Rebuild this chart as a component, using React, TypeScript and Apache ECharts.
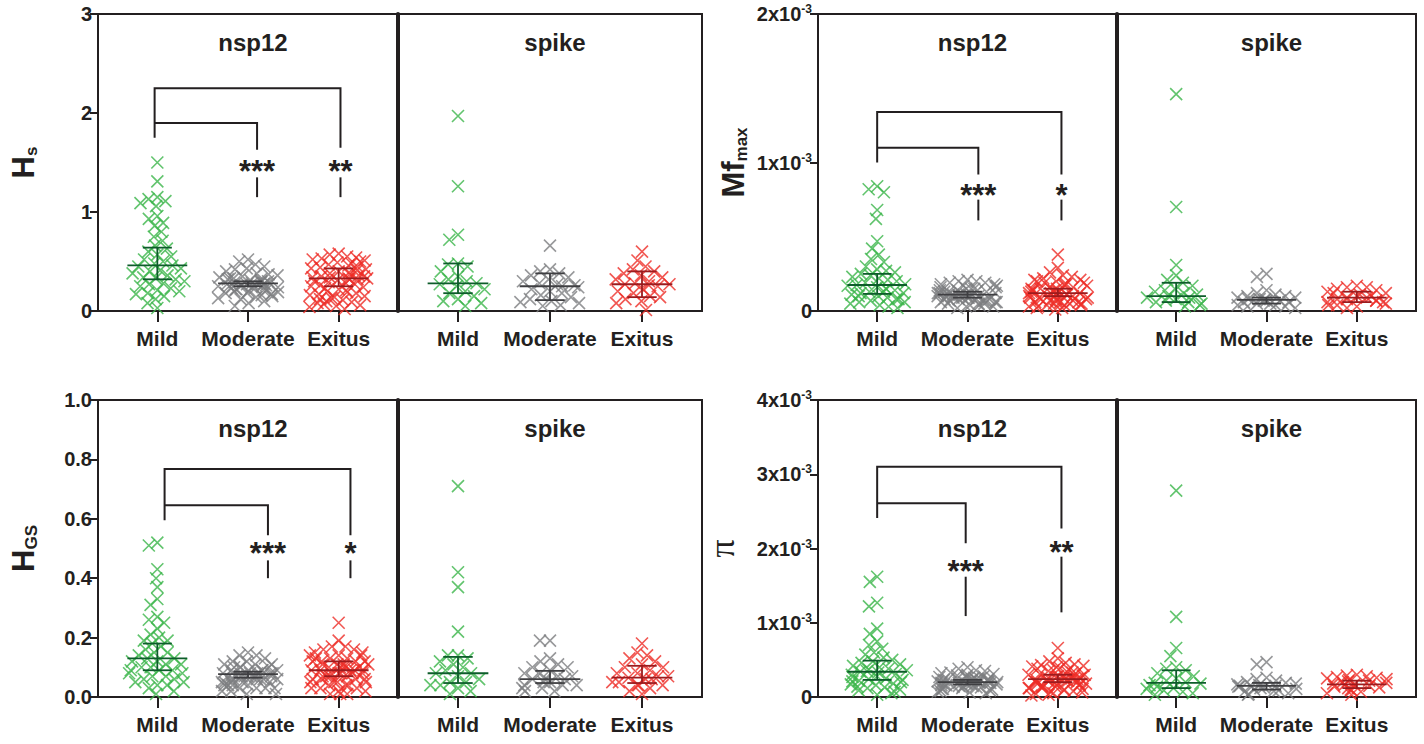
import React, { useEffect, useRef } from 'react';
import * as echarts from 'echarts';

const categories = ['Mild', 'Moderate', 'Exitus'];
const genes = ['nsp12', 'spike'];

// ---- Hs ----
const hsNspMild = [1.50, 1.31, 1.15, 1.13, 1.11, 1.09, 1.06, 0.96, 0.93, 0.89, 0.86, 0.80, 0.75, 0.71, 0.66, 0.63, 0.60, 0.57, 0.55, 0.52, 0.50, 0.48, 0.46, 0.45, 0.43, 0.41, 0.40, 0.38, 0.36, 0.34, 0.33, 0.32, 0.30, 0.28, 0.27, 0.25, 0.23, 0.21, 0.20, 0.18, 0.17, 0.15, 0.12, 0.08, 0.03];
const hsNspModerate = [0.52, 0.50, 0.47, 0.45, 0.43, 0.42, 0.40, 0.38, 0.37, 0.36, 0.35, 0.34, 0.33, 0.33, 0.32, 0.32, 0.31, 0.30, 0.30, 0.29, 0.29, 0.28, 0.28, 0.28, 0.27, 0.27, 0.27, 0.26, 0.26, 0.26, 0.25, 0.25, 0.25, 0.24, 0.24, 0.23, 0.23, 0.22, 0.22, 0.21, 0.21, 0.20, 0.20, 0.19, 0.18, 0.18, 0.17, 0.16, 0.15, 0.14, 0.13, 0.12, 0.10, 0.08, 0.05];
const hsNspExitus = [0.58, 0.57, 0.55, 0.54, 0.53, 0.52, 0.51, 0.50, 0.49, 0.48, 0.47, 0.46, 0.45, 0.44, 0.43, 0.42, 0.41, 0.40, 0.39, 0.38, 0.37, 0.36, 0.35, 0.35, 0.34, 0.34, 0.33, 0.33, 0.32, 0.32, 0.31, 0.30, 0.29, 0.28, 0.27, 0.26, 0.25, 0.24, 0.23, 0.22, 0.21, 0.20, 0.19, 0.18, 0.17, 0.16, 0.15, 0.14, 0.13, 0.12, 0.11, 0.10, 0.09, 0.08, 0.07, 0.06, 0.05, 0.04, 0.02];
const hsSpikeMild = [1.97, 1.26, 0.77, 0.72, 0.48, 0.47, 0.45, 0.40, 0.35, 0.32, 0.30, 0.28, 0.27, 0.25, 0.22, 0.20, 0.18, 0.15, 0.12, 0.10, 0.08, 0.05];
const hsSpikeModerate = [0.66, 0.42, 0.40, 0.38, 0.36, 0.34, 0.32, 0.30, 0.28, 0.27, 0.26, 0.25, 0.24, 0.22, 0.20, 0.18, 0.16, 0.14, 0.12, 0.10, 0.09, 0.08, 0.06, 0.05];
const hsSpikeExitus = [0.60, 0.51, 0.45, 0.42, 0.40, 0.38, 0.36, 0.34, 0.32, 0.30, 0.28, 0.27, 0.27, 0.26, 0.25, 0.22, 0.20, 0.18, 0.15, 0.14, 0.12, 0.10, 0.08, 0.01];
// [median, lower, upper] per group
const hsNspStats = [[0.46, 0.32, 0.64], [0.28, 0.25, 0.30], [0.33, 0.25, 0.43]];
const hsSpikeStats = [[0.28, 0.18, 0.48], [0.25, 0.11, 0.38], [0.27, 0.14, 0.40]];

// ---- Mf max (x10^-3) ----
const mfNspMild = [0.84, 0.82, 0.80, 0.68, 0.62, 0.47, 0.42, 0.38, 0.35, 0.33, 0.30, 0.28, 0.27, 0.26, 0.25, 0.24, 0.23, 0.22, 0.21, 0.20, 0.19, 0.18, 0.175, 0.17, 0.16, 0.15, 0.15, 0.14, 0.13, 0.13, 0.12, 0.12, 0.11, 0.10, 0.10, 0.09, 0.08, 0.08, 0.07, 0.06, 0.06, 0.05, 0.04, 0.03, 0.02];
const mfNspModerate = [0.21, 0.20, 0.20, 0.19, 0.19, 0.18, 0.18, 0.17, 0.17, 0.16, 0.16, 0.15, 0.15, 0.15, 0.14, 0.14, 0.14, 0.13, 0.13, 0.13, 0.12, 0.12, 0.12, 0.12, 0.11, 0.11, 0.11, 0.11, 0.10, 0.10, 0.10, 0.10, 0.10, 0.09, 0.09, 0.09, 0.09, 0.08, 0.08, 0.08, 0.08, 0.07, 0.07, 0.07, 0.06, 0.06, 0.06, 0.05, 0.05, 0.05, 0.04, 0.04, 0.03, 0.03, 0.02];
const mfNspExitus = [0.38, 0.29, 0.26, 0.24, 0.23, 0.22, 0.21, 0.21, 0.20, 0.20, 0.19, 0.19, 0.18, 0.18, 0.17, 0.17, 0.16, 0.16, 0.15, 0.15, 0.15, 0.14, 0.14, 0.14, 0.13, 0.13, 0.13, 0.12, 0.12, 0.12, 0.12, 0.11, 0.11, 0.11, 0.10, 0.10, 0.10, 0.09, 0.09, 0.09, 0.08, 0.08, 0.08, 0.07, 0.07, 0.07, 0.06, 0.06, 0.06, 0.05, 0.05, 0.05, 0.04, 0.04, 0.04, 0.03, 0.03, 0.02, 0.02, 0.01];
const mfSpikeMild = [1.46, 0.70, 0.31, 0.24, 0.21, 0.19, 0.17, 0.15, 0.14, 0.13, 0.12, 0.11, 0.10, 0.09, 0.09, 0.08, 0.07, 0.06, 0.06, 0.05, 0.04, 0.03];
const mfSpikeModerate = [0.25, 0.23, 0.14, 0.12, 0.11, 0.10, 0.10, 0.09, 0.09, 0.08, 0.08, 0.08, 0.07, 0.07, 0.07, 0.06, 0.06, 0.05, 0.05, 0.04, 0.04, 0.03, 0.03, 0.02];
const mfSpikeExitus = [0.17, 0.16, 0.16, 0.15, 0.14, 0.13, 0.12, 0.12, 0.11, 0.10, 0.10, 0.09, 0.09, 0.08, 0.08, 0.07, 0.07, 0.06, 0.06, 0.05, 0.04, 0.04, 0.03, 0.02];
const mfNspStats = [[0.175, 0.115, 0.25], [0.11, 0.09, 0.13], [0.12, 0.10, 0.15]];
const mfSpikeStats = [[0.10, 0.06, 0.19], [0.075, 0.05, 0.09], [0.09, 0.06, 0.13]];

// ---- HGS ----
const hgsNspMild = [0.52, 0.51, 0.43, 0.40, 0.37, 0.33, 0.31, 0.27, 0.26, 0.25, 0.23, 0.21, 0.20, 0.19, 0.19, 0.18, 0.17, 0.16, 0.15, 0.15, 0.14, 0.13, 0.13, 0.12, 0.12, 0.11, 0.11, 0.10, 0.10, 0.09, 0.09, 0.09, 0.08, 0.08, 0.07, 0.07, 0.06, 0.06, 0.05, 0.05, 0.04, 0.04, 0.03, 0.02, 0.01];
const hgsNspModerate = [0.15, 0.14, 0.14, 0.13, 0.12, 0.12, 0.11, 0.11, 0.11, 0.10, 0.10, 0.10, 0.10, 0.09, 0.09, 0.09, 0.09, 0.09, 0.08, 0.08, 0.08, 0.08, 0.08, 0.08, 0.08, 0.07, 0.07, 0.07, 0.07, 0.07, 0.07, 0.07, 0.06, 0.06, 0.06, 0.06, 0.06, 0.06, 0.05, 0.05, 0.05, 0.05, 0.05, 0.04, 0.04, 0.04, 0.04, 0.03, 0.03, 0.03, 0.03, 0.02, 0.02, 0.01, 0.01];
const hgsNspExitus = [0.25, 0.19, 0.17, 0.17, 0.16, 0.16, 0.15, 0.15, 0.14, 0.14, 0.14, 0.13, 0.13, 0.13, 0.12, 0.12, 0.12, 0.12, 0.11, 0.11, 0.11, 0.11, 0.10, 0.10, 0.10, 0.10, 0.10, 0.09, 0.09, 0.09, 0.09, 0.09, 0.08, 0.08, 0.08, 0.08, 0.08, 0.07, 0.07, 0.07, 0.07, 0.06, 0.06, 0.06, 0.06, 0.05, 0.05, 0.05, 0.05, 0.04, 0.04, 0.04, 0.03, 0.03, 0.03, 0.02, 0.02, 0.01, 0.01, 0.01];
const hgsSpikeMild = [0.71, 0.42, 0.37, 0.22, 0.14, 0.14, 0.13, 0.12, 0.11, 0.10, 0.09, 0.08, 0.08, 0.07, 0.06, 0.05, 0.05, 0.04, 0.04, 0.03, 0.02, 0.01];
const hgsSpikeModerate = [0.19, 0.19, 0.13, 0.12, 0.11, 0.10, 0.10, 0.09, 0.08, 0.08, 0.07, 0.07, 0.06, 0.06, 0.06, 0.05, 0.05, 0.04, 0.04, 0.04, 0.03, 0.03, 0.02, 0.02];
const hgsSpikeExitus = [0.18, 0.15, 0.14, 0.13, 0.12, 0.11, 0.10, 0.10, 0.09, 0.08, 0.08, 0.07, 0.07, 0.065, 0.06, 0.06, 0.05, 0.05, 0.04, 0.04, 0.04, 0.03, 0.02, 0.01];
const hgsNspStats = [[0.13, 0.09, 0.18], [0.077, 0.065, 0.085], [0.09, 0.07, 0.12]];
const hgsSpikeStats = [[0.08, 0.047, 0.135], [0.06, 0.047, 0.088], [0.065, 0.047, 0.105]];

// ---- pi (x10^-3) ----
const piNspMild = [1.62, 1.55, 1.27, 1.22, 0.92, 0.85, 0.75, 0.70, 0.65, 0.60, 0.57, 0.53, 0.50, 0.48, 0.46, 0.44, 0.42, 0.40, 0.38, 0.37, 0.36, 0.35, 0.34, 0.33, 0.31, 0.30, 0.28, 0.27, 0.25, 0.24, 0.23, 0.22, 0.21, 0.20, 0.18, 0.17, 0.16, 0.14, 0.13, 0.12, 0.10, 0.09, 0.07, 0.05, 0.03];
const piNspModerate = [0.40, 0.38, 0.36, 0.35, 0.33, 0.32, 0.31, 0.30, 0.29, 0.28, 0.28, 0.27, 0.26, 0.26, 0.25, 0.25, 0.24, 0.24, 0.23, 0.23, 0.23, 0.22, 0.22, 0.22, 0.21, 0.21, 0.21, 0.20, 0.20, 0.20, 0.19, 0.19, 0.19, 0.18, 0.18, 0.18, 0.17, 0.17, 0.16, 0.16, 0.15, 0.15, 0.14, 0.14, 0.13, 0.13, 0.12, 0.11, 0.11, 0.10, 0.09, 0.08, 0.07, 0.06, 0.05];
const piNspExitus = [0.66, 0.52, 0.48, 0.46, 0.44, 0.43, 0.42, 0.41, 0.40, 0.39, 0.38, 0.37, 0.36, 0.35, 0.34, 0.33, 0.32, 0.31, 0.30, 0.30, 0.29, 0.28, 0.28, 0.27, 0.26, 0.26, 0.25, 0.25, 0.24, 0.24, 0.23, 0.23, 0.22, 0.22, 0.21, 0.21, 0.20, 0.20, 0.19, 0.18, 0.18, 0.17, 0.16, 0.16, 0.15, 0.14, 0.14, 0.13, 0.12, 0.12, 0.11, 0.10, 0.09, 0.08, 0.07, 0.06, 0.05, 0.04, 0.03, 0.02];
const piSpikeMild = [2.78, 1.08, 0.66, 0.55, 0.40, 0.38, 0.36, 0.32, 0.28, 0.25, 0.22, 0.20, 0.19, 0.18, 0.16, 0.14, 0.12, 0.11, 0.09, 0.07, 0.05, 0.03];
const piSpikeModerate = [0.47, 0.44, 0.26, 0.24, 0.22, 0.20, 0.19, 0.18, 0.17, 0.16, 0.15, 0.15, 0.14, 0.14, 0.13, 0.12, 0.11, 0.10, 0.09, 0.08, 0.07, 0.05, 0.04, 0.03];
const piSpikeExitus = [0.30, 0.29, 0.28, 0.27, 0.26, 0.25, 0.24, 0.23, 0.22, 0.21, 0.20, 0.19, 0.18, 0.17, 0.16, 0.15, 0.14, 0.13, 0.12, 0.10, 0.09, 0.07, 0.05, 0.03];
const piNspStats = [[0.34, 0.23, 0.49], [0.20, 0.17, 0.23], [0.24, 0.20, 0.30]];
const piSpikeStats = [[0.19, 0.12, 0.36], [0.15, 0.10, 0.19], [0.17, 0.12, 0.22]];

// significance brackets (x in category units, y in axis units)
const hsBrackets = [
  [[-0.03, 1.75], [-0.03, 2.25], [2.02, 2.25], [2.02, 1.65]],
  [[-0.03, 1.90], [1.10, 1.90], [1.10, 1.63]],
  [[1.10, 1.35], [1.10, 1.15]],
  [[2.02, 1.35], [2.02, 1.15]],
];
const hsStars = [{ x: 1.10, y: 1.49, t: '***' }, { x: 2.02, y: 1.49, t: '**' }];
const mfBrackets = [
  [[0, 1.0], [0, 1.34], [2.04, 1.34], [2.04, 0.92]],
  [[0, 1.10], [1.12, 1.10], [1.12, 0.92]],
  [[1.12, 0.75], [1.12, 0.61]],
  [[2.04, 0.75], [2.04, 0.61]],
];
const mfStars = [{ x: 1.12, y: 0.83, t: '***' }, { x: 2.04, y: 0.83, t: '*' }];
const hgsBrackets = [
  [[0.08, 0.595], [0.08, 0.768], [2.13, 0.768], [2.13, 0.545]],
  [[0.08, 0.646], [1.22, 0.646], [1.22, 0.545]],
  [[1.22, 0.46], [1.22, 0.40]],
  [[2.13, 0.46], [2.13, 0.40]],
];
const hgsStars = [{ x: 1.22, y: 0.51, t: '***' }, { x: 2.13, y: 0.51, t: '*' }];
const piBrackets = [
  [[0, 2.41], [0, 3.10], [2.04, 3.10], [2.04, 2.27]],
  [[0, 2.61], [0.98, 2.61], [0.98, 2.07]],
  [[0.98, 1.62], [0.98, 1.09]],
  [[2.04, 1.89], [2.04, 1.14]],
];
const piStars = [{ x: 0.98, y: 1.80, t: '***' }, { x: 2.04, y: 2.06, t: '**' }];

const INK = '#231f20';
const COLORS = ['#3bb54a', '#7d7e81', '#ee2d27'];
const DARK = ['#0d5c2a', '#3f3f42', '#9c1b1e'];
const FONT = '"Liberation Sans", Arial, Helvetica, sans-serif';
const XPATH = 'path://M0,0L10,12M10,0L0,12';

const sciFmt = (v: number) => (v === 0 ? '0' : `{b|${v}x10}{s|-3}`);

const panels = [
  {
    row: 0, col: 0, max: 3, interval: 1, fmt: (v: number) => String(v),
    name: '{h|H}{s|s}', nameGap: 58,
    groups: [[hsNspMild, hsNspModerate, hsNspExitus], [hsSpikeMild, hsSpikeModerate, hsSpikeExitus]],
    stats: [hsNspStats, hsSpikeStats], brackets: hsBrackets, stars: hsStars,
  },
  {
    row: 0, col: 1, max: 2, interval: 1, fmt: sciFmt,
    name: '{h|Mf}{s|max}', nameGap: 68,
    groups: [[mfNspMild, mfNspModerate, mfNspExitus], [mfSpikeMild, mfSpikeModerate, mfSpikeExitus]],
    stats: [mfNspStats, mfSpikeStats], brackets: mfBrackets, stars: mfStars,
  },
  {
    row: 1, col: 0, max: 1, interval: 0.2, fmt: (v: number) => v.toFixed(1),
    name: '{h|H}{s|GS}', nameGap: 58,
    groups: [[hgsNspMild, hgsNspModerate, hgsNspExitus], [hgsSpikeMild, hgsSpikeModerate, hgsSpikeExitus]],
    stats: [hgsNspStats, hgsSpikeStats], brackets: hgsBrackets, stars: hgsStars,
  },
  {
    row: 1, col: 1, max: 4, interval: 1, fmt: sciFmt,
    name: '{p|π}', nameGap: 78,
    groups: [[piNspMild, piNspModerate, piNspExitus], [piSpikeMild, piSpikeModerate, piSpikeExitus]],
    stats: [piNspStats, piSpikeStats], brackets: piBrackets, stars: piStars,
  },
];

const COL_X = [[98, 398, 702], [818, 1117, 1416]];
const ROW_Y = [[14, 311], [400, 697]];

function buildOption() {
  const grid: any[] = [];
  const xAxis: any[] = [];
  const yAxis: any[] = [];
  const series: any[] = [];
  const title: any[] = [];

  panels.forEach((p) => {
    const [top, bottom] = ROW_Y[p.row];
    const height = bottom - top;
    genes.forEach((gene, g) => {
      const x0 = COL_X[p.col][g];
      const x1 = COL_X[p.col][g + 1];
      const w = x1 - x0;
      const frameGrid = grid.length;
      grid.push({ left: x0, top, width: w, height, show: true, borderColor: INK, borderWidth: 2, backgroundColor: 'transparent' });
      const dataGrid = grid.length;
      grid.push({ left: x0 + 14, top, width: w - 28, height, show: false });

      xAxis.push({ gridIndex: frameGrid, type: 'value', show: false, min: 0, max: 1 });
      const catX = xAxis.length;
      xAxis.push({
        gridIndex: dataGrid, type: 'category', data: categories, boundaryGap: true,
        jitter: 60, jitterOverlap: false, jitterMargin: g === 0 ? -3 : -2,
        axisLine: { show: false },
        axisTick: { show: true, alignWithLabel: true, length: 11, lineStyle: { color: INK, width: 2 } },
        axisLabel: { color: INK, fontSize: 21, fontWeight: 'bold', fontFamily: FONT, margin: 17, interval: 0 },
      });
      const valX = xAxis.length;
      xAxis.push({ gridIndex: dataGrid, type: 'value', show: false, min: -0.5, max: 2.5 });

      yAxis.push({
        gridIndex: frameGrid, type: 'value', min: 0, max: p.max, interval: p.interval,
        axisLine: { show: true, lineStyle: { color: INK, width: g === 0 ? 2 : 4 } },
        axisTick: { show: g === 0, length: 8, lineStyle: { color: INK, width: 2 } },
        axisLabel: {
          show: g === 0, color: INK, fontSize: 20, fontWeight: 'bold', fontFamily: FONT, margin: 6,
          formatter: p.fmt,
          rich: {
            b: { color: INK, fontSize: 20, fontWeight: 'bold', fontFamily: FONT },
            s: { color: INK, fontSize: 12, fontWeight: 'bold', fontFamily: FONT, verticalAlign: 'top', lineHeight: 22 },
          },
        },
        splitLine: { show: false },
        name: g === 0 ? p.name : '',
        nameLocation: 'middle', nameRotate: 90, nameGap: p.nameGap,
        nameTextStyle: {
          color: INK, fontFamily: FONT,
          rich: {
            h: { color: INK, fontSize: 31, fontWeight: 'bold', fontFamily: FONT, lineHeight: 34 },
            s: { color: INK, fontSize: 17, fontWeight: 'bold', fontFamily: FONT, verticalAlign: 'bottom', lineHeight: 24 },
            p: { color: INK, fontSize: 36, fontFamily: '"Liberation Serif", "DejaVu Serif", serif' },
          },
        },
      });
      const dataY = yAxis.length;
      yAxis.push({ gridIndex: dataGrid, type: 'value', min: 0, max: p.max, interval: p.interval, show: false });

      title.push({
        text: gene, left: x0 + w / 2, top: top + 11, textAlign: 'center',
        textStyle: { color: INK, fontSize: 24, fontWeight: 'bold', fontFamily: FONT },
      });

      // scatter points
      p.groups[g].forEach((vals, c) => {
        series.push({
          type: 'scatter', xAxisIndex: catX, yAxisIndex: dataY,
          data: vals.map((v) => [c, v]),
          symbol: XPATH, symbolSize: 12,
          itemStyle: { color: 'rgba(0,0,0,0)', borderColor: COLORS[c], borderWidth: 1.6 },
          z: 2, silent: true,
        });
      });

      // median + interval
      const st = p.stats[g];
      series.push({
        type: 'custom', xAxisIndex: valX, yAxisIndex: dataY, z: 5, silent: true,
        data: st.map((s, c) => [c, s[0], s[1], s[2]]),
        renderItem: (params: any, api: any) => {
          const c = api.value(0);
          const m = api.coord([c, api.value(1)]);
          const lo = api.coord([c, api.value(2)]);
          const hi = api.coord([c, api.value(3)]);
          const hw = api.size([0.33, 0])[0];
          const cw = api.size([0.16, 0])[0];
          const style = { stroke: DARK[params.dataIndex], lineWidth: 1.8 };
          return {
            type: 'group',
            children: [
              { type: 'line', shape: { x1: m[0] - hw, y1: m[1], x2: m[0] + hw, y2: m[1] }, style },
              { type: 'line', shape: { x1: m[0] - cw, y1: hi[1], x2: m[0] + cw, y2: hi[1] }, style },
              { type: 'line', shape: { x1: m[0] - cw, y1: lo[1], x2: m[0] + cw, y2: lo[1] }, style },
              { type: 'line', shape: { x1: m[0], y1: lo[1], x2: m[0], y2: hi[1] }, style },
            ],
          };
        },
      });

      if (g === 0) {
        const br = p.brackets;
        series.push({
          type: 'custom', xAxisIndex: valX, yAxisIndex: dataY, z: 6, silent: true, clip: false,
          data: br.map((b) => b[0]),
          renderItem: (params: any, api: any) => {
            const pts = br[params.dataIndex].map((pt) => api.coord(pt));
            return { type: 'polyline', shape: { points: pts }, style: { stroke: INK, lineWidth: 2, fill: 'none' } };
          },
        });
        const stars = p.stars;
        series.push({
          type: 'custom', xAxisIndex: valX, yAxisIndex: dataY, z: 6, silent: true, clip: false,
          data: stars.map((s) => [s.x, s.y]),
          renderItem: (params: any, api: any) => {
            const pt = api.coord([api.value(0), api.value(1)]);
            return {
              type: 'text', x: pt[0], y: pt[1] + 8,
              style: {
                text: stars[params.dataIndex].t, font: `bold 31px ${FONT}`, fill: INK,
                align: 'center', verticalAlign: 'middle', textAlign: 'center', textVerticalAlign: 'middle',
              },
            };
          },
        });
      }
    });
  });

  return { animation: false, backgroundColor: '#ffffff', grid, xAxis, yAxis, series, title };
}

export default function App() {
  const ref = useRef<HTMLDivElement>(null);
  useEffect(() => {
    if (!ref.current) return;
    const chart = echarts.init(ref.current, undefined, { renderer: 'svg' });
    chart.setOption(buildOption() as any);
    return () => chart.dispose();
  }, []);
  return <div ref={ref} style={{ width: 1424, height: 744, position: 'absolute', left: 0, top: 0 }} />;
}
